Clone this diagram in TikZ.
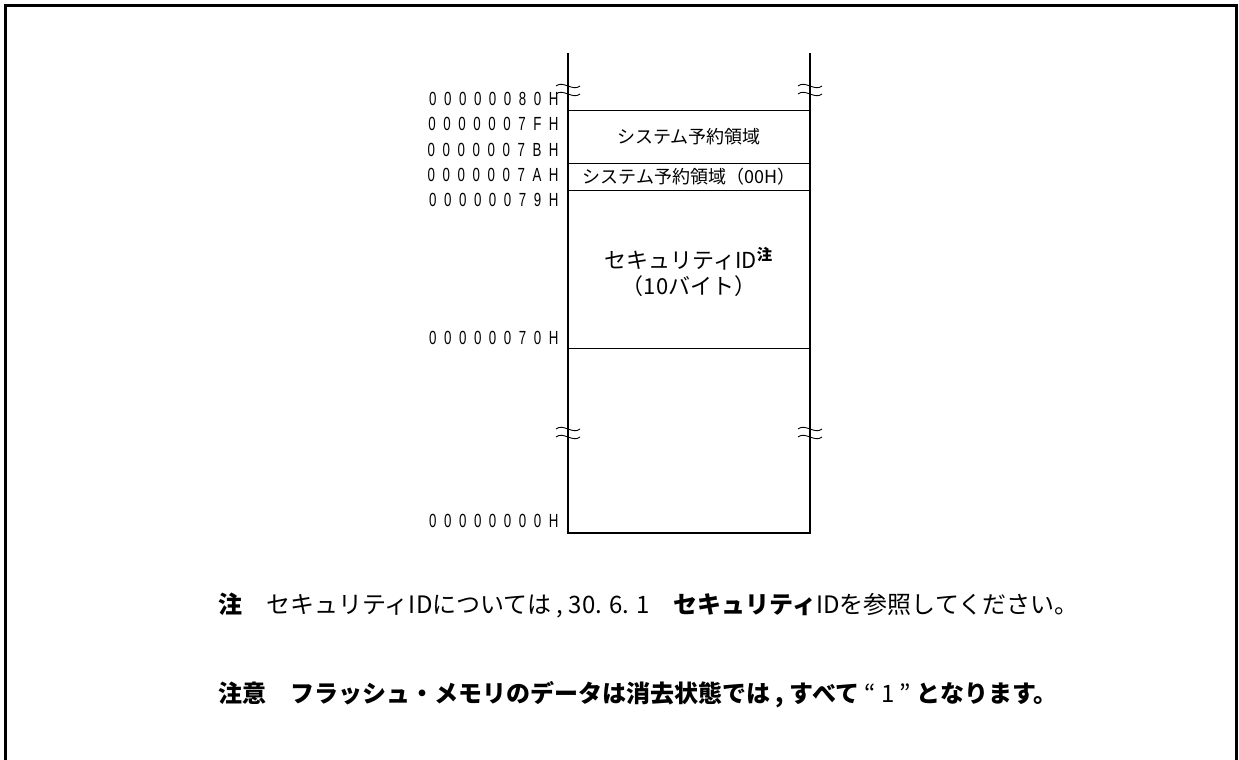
\documentclass[tikz,border=0pt]{standalone}
\usepackage{fontspec}
\usepackage{tikz}
\newfontfamily\jpfont{Noto Sans CJK JP}
\newfontfamily\addrfont[FakeStretch=0.7,LetterSpace=40]{Liberation Sans}
\tikzset{
    addr/.style  = {anchor=east, inner sep=0pt, font=\addrfont\fontsize{9.5}{9.5}\selectfont},
    jptext/.style= {inner sep=0pt, align=center, font=\jpfont\fontsize{9}{12.5}\selectfont},
    note/.style  = {anchor=west, inner sep=0pt, font=\jpfont\fontsize{12}{12}\selectfont},
    frame/.style = {line width=1.5pt},
    wall/.style  = {line width=1.2pt},
    sep/.style   = {line width=0.5pt},
    brk/.style   = {line width=0.45pt}
}

\begin{document}
\begin{tikzpicture}[x=0.5pt, y=-0.5pt]
            \useasboundingbox (0,0) rectangle (1239,760);
            % outer frame, open at the bottom
            \draw[frame] (5,760) -- (5,5) -- (1236,5) -- (1236,760);

            % memory map
            \draw[wall] (568, 53) -- (568,533) -- (810,533) -- (810, 53);
            \draw[sep]  (568,110) -- (810,110);
            \draw[sep]  (568,163) -- (810,163);
            \draw[sep]  (568,190) -- (810,190);
            \draw[sep]  (568,348) -- (810,348);

            % break marks
            \foreach \bx in {568,810}
                \foreach \by in {86,94,429,437}
                    \draw[brk] (\bx-12,\by) .. controls (\bx-5,\by-6) and (\bx+5,\by+6) .. (\bx+12,\by);

            % addresses
            \node[addr] (a80) at (559, 99) {00000080H};
            \node[addr] (a7f) at (559,124) {0000007FH};
            \node[addr] (a7b) at (559,150) {0000007BH};
            \node[addr] (a7a) at (559,175) {0000007AH};
            \node[addr] (a79) at (559,200) {00000079H};
            \node[addr] (a70) at (559,338) {00000070H};
            \node[addr] (a00) at (559,521) {00000000H};

            % areas
            \node[jptext] (sysres)   at (689,137) {システム予約領域};
            \node[jptext] (sysres00) at (689,177) {システム予約領域（00H）};
            \node[jptext, font=\jpfont\fontsize{11}{13}\selectfont] (secid) at (689,272)
                 {セキュリティID\textsuperscript{\bfseries 注}\\（10バイト）};

            % notes
            \node[note] (note1) at (218,605)
                 {{\bfseries 注}\quad セキュリティIDについては , 30. 6. 1\quad{\bfseries セキュリティ}IDを参照してください。};
            \node[note] (note2) at (218,695)
                 {{\bfseries 注意\quad フラッシュ・メモリのデータは消去状態では , すべて} “ 1 ” {\bfseries となります。}};
        \end{tikzpicture}
\end{document}
